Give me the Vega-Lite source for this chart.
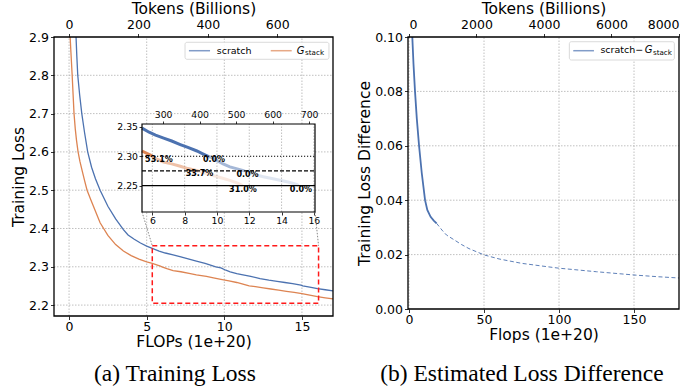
{
  "$schema": "https://vega.github.io/schema/vega-lite/v6.json",
  "background": "white",
  "width": 697,
  "height": 390,
  "autosize": {"type": "none"},
  "padding": 0,
  "config": {
    "font": "DejaVu Sans",
    "view": {"stroke": null},
    "axis": {
      "labelFont": "DejaVu Sans", "labelFontSize": 12.5, "labelColor": "black",
      "titleFont": "DejaVu Sans", "titleFontSize": 15.5, "titleFontWeight": "normal", "titleColor": "black",
      "tickColor": "black", "tickSize": 3.5, "tickWidth": 0.8, "labelPadding": 2, "titlePadding": 2,
      "domain": false, "grid": false
    }
  },
  "resolve": {"scale": {"x": "independent", "y": "independent"}, "axis": {"x": "independent", "y": "independent"}},
  "datasets": {
    "loss": [
      {"run": "scratch", "flops": 0.45, "loss": 2.900},
      {"run": "scratch", "flops": 0.50, "loss": 2.850},
      {"run": "scratch", "flops": 0.56, "loss": 2.800},
      {"run": "scratch", "flops": 0.68, "loss": 2.750},
      {"run": "scratch", "flops": 0.82, "loss": 2.700},
      {"run": "scratch", "flops": 1.00, "loss": 2.650},
      {"run": "scratch", "flops": 1.20, "loss": 2.600},
      {"run": "scratch", "flops": 1.45, "loss": 2.560},
      {"run": "scratch", "flops": 1.70, "loss": 2.530},
      {"run": "scratch", "flops": 2.00, "loss": 2.500},
      {"run": "scratch", "flops": 2.50, "loss": 2.458},
      {"run": "scratch", "flops": 3.00, "loss": 2.425},
      {"run": "scratch", "flops": 3.50, "loss": 2.397},
      {"run": "scratch", "flops": 3.80, "loss": 2.383},
      {"run": "scratch", "flops": 4.20, "loss": 2.372},
      {"run": "scratch", "flops": 4.60, "loss": 2.362},
      {"run": "scratch", "flops": 5.00, "loss": 2.354},
      {"run": "scratch", "flops": 5.36, "loss": 2.348},
      {"run": "scratch", "flops": 5.80, "loss": 2.341},
      {"run": "scratch", "flops": 6.20, "loss": 2.336},
      {"run": "scratch", "flops": 6.70, "loss": 2.331},
      {"run": "scratch", "flops": 7.20, "loss": 2.326},
      {"run": "scratch", "flops": 7.73, "loss": 2.320},
      {"run": "scratch", "flops": 8.20, "loss": 2.315},
      {"run": "scratch", "flops": 8.76, "loss": 2.309},
      {"run": "scratch", "flops": 9.06, "loss": 2.305},
      {"run": "scratch", "flops": 9.45, "loss": 2.300},
      {"run": "scratch", "flops": 9.78, "loss": 2.297},
      {"run": "scratch", "flops": 10.10, "loss": 2.291},
      {"run": "scratch", "flops": 10.38, "loss": 2.287},
      {"run": "scratch", "flops": 10.80, "loss": 2.282},
      {"run": "scratch", "flops": 11.20, "loss": 2.279},
      {"run": "scratch", "flops": 11.70, "loss": 2.275},
      {"run": "scratch", "flops": 12.30, "loss": 2.269},
      {"run": "scratch", "flops": 12.87, "loss": 2.265},
      {"run": "scratch", "flops": 13.40, "loss": 2.262},
      {"run": "scratch", "flops": 13.90, "loss": 2.259},
      {"run": "scratch", "flops": 14.40, "loss": 2.256},
      {"run": "scratch", "flops": 14.93, "loss": 2.252},
      {"run": "scratch", "flops": 15.05, "loss": 2.250},
      {"run": "scratch", "flops": 15.50, "loss": 2.247},
      {"run": "scratch", "flops": 16.00, "loss": 2.243},
      {"run": "scratch", "flops": 16.50, "loss": 2.240},
      {"run": "scratch", "flops": 17.00, "loss": 2.237},
      {"run": "G_stack", "flops": 0.07, "loss": 2.900},
      {"run": "G_stack", "flops": 0.12, "loss": 2.860},
      {"run": "G_stack", "flops": 0.20, "loss": 2.800},
      {"run": "G_stack", "flops": 0.26, "loss": 2.750},
      {"run": "G_stack", "flops": 0.32, "loss": 2.700},
      {"run": "G_stack", "flops": 0.40, "loss": 2.660},
      {"run": "G_stack", "flops": 0.48, "loss": 2.630},
      {"run": "G_stack", "flops": 0.58, "loss": 2.600},
      {"run": "G_stack", "flops": 0.70, "loss": 2.575},
      {"run": "G_stack", "flops": 0.85, "loss": 2.550},
      {"run": "G_stack", "flops": 1.00, "loss": 2.525},
      {"run": "G_stack", "flops": 1.16, "loss": 2.500},
      {"run": "G_stack", "flops": 1.40, "loss": 2.475},
      {"run": "G_stack", "flops": 1.70, "loss": 2.445},
      {"run": "G_stack", "flops": 2.00, "loss": 2.415},
      {"run": "G_stack", "flops": 2.50, "loss": 2.382},
      {"run": "G_stack", "flops": 3.00, "loss": 2.358},
      {"run": "G_stack", "flops": 3.50, "loss": 2.341},
      {"run": "G_stack", "flops": 4.00, "loss": 2.329},
      {"run": "G_stack", "flops": 4.50, "loss": 2.320},
      {"run": "G_stack", "flops": 5.00, "loss": 2.313},
      {"run": "G_stack", "flops": 5.36, "loss": 2.309},
      {"run": "G_stack", "flops": 5.88, "loss": 2.302},
      {"run": "G_stack", "flops": 5.98, "loss": 2.300},
      {"run": "G_stack", "flops": 6.30, "loss": 2.295},
      {"run": "G_stack", "flops": 6.70, "loss": 2.290},
      {"run": "G_stack", "flops": 7.20, "loss": 2.287},
      {"run": "G_stack", "flops": 7.73, "loss": 2.283},
      {"run": "G_stack", "flops": 8.20, "loss": 2.279},
      {"run": "G_stack", "flops": 8.85, "loss": 2.275},
      {"run": "G_stack", "flops": 9.30, "loss": 2.271},
      {"run": "G_stack", "flops": 9.78, "loss": 2.267},
      {"run": "G_stack", "flops": 10.30, "loss": 2.263},
      {"run": "G_stack", "flops": 10.80, "loss": 2.259},
      {"run": "G_stack", "flops": 11.20, "loss": 2.255},
      {"run": "G_stack", "flops": 11.60, "loss": 2.250},
      {"run": "G_stack", "flops": 12.00, "loss": 2.248},
      {"run": "G_stack", "flops": 12.50, "loss": 2.245},
      {"run": "G_stack", "flops": 13.00, "loss": 2.242},
      {"run": "G_stack", "flops": 13.50, "loss": 2.239},
      {"run": "G_stack", "flops": 14.00, "loss": 2.236},
      {"run": "G_stack", "flops": 14.50, "loss": 2.233},
      {"run": "G_stack", "flops": 15.00, "loss": 2.230},
      {"run": "G_stack", "flops": 15.50, "loss": 2.226},
      {"run": "G_stack", "flops": 16.00, "loss": 2.222},
      {"run": "G_stack", "flops": 16.50, "loss": 2.219},
      {"run": "G_stack", "flops": 17.00, "loss": 2.216}
    ],
    "savings": [
      {"flops": 6.41, "loss": 2.2936, "label": "53.1%"},
      {"flops": 9.82, "loss": 2.2936, "label": "0.0%"},
      {"flops": 8.92, "loss": 2.269, "label": "33.7%"},
      {"flops": 11.89, "loss": 2.268, "label": "0.0%"},
      {"flops": 11.61, "loss": 2.2425, "label": "31.0%"},
      {"flops": 15.20, "loss": 2.2425, "label": "0.0%"}
    ],
    "diff": [
      {"part": "measured", "flops": 2.2, "diff": 0.100},
      {"part": "measured", "flops": 3.0, "diff": 0.090},
      {"part": "measured", "flops": 4.0, "diff": 0.080},
      {"part": "measured", "flops": 5.2, "diff": 0.070},
      {"part": "measured", "flops": 6.7, "diff": 0.060},
      {"part": "measured", "flops": 8.5, "diff": 0.050},
      {"part": "measured", "flops": 10.7, "diff": 0.040},
      {"part": "measured", "flops": 12.2, "diff": 0.0364},
      {"part": "measured", "flops": 14.4, "diff": 0.0339},
      {"part": "measured", "flops": 16.5, "diff": 0.0325},
      {"part": "measured", "flops": 18.4, "diff": 0.0315},
      {"part": "extrapolated", "flops": 18.4, "diff": 0.0315},
      {"part": "extrapolated", "flops": 22, "diff": 0.0290},
      {"part": "extrapolated", "flops": 25, "diff": 0.0272},
      {"part": "extrapolated", "flops": 29.6, "diff": 0.0256},
      {"part": "extrapolated", "flops": 35, "diff": 0.0237},
      {"part": "extrapolated", "flops": 40, "diff": 0.0222},
      {"part": "extrapolated", "flops": 50, "diff": 0.0199},
      {"part": "extrapolated", "flops": 60, "diff": 0.0184},
      {"part": "extrapolated", "flops": 75, "diff": 0.0168},
      {"part": "extrapolated", "flops": 90, "diff": 0.0157},
      {"part": "extrapolated", "flops": 100, "diff": 0.0150},
      {"part": "extrapolated", "flops": 125, "diff": 0.0137},
      {"part": "extrapolated", "flops": 150, "diff": 0.0125},
      {"part": "extrapolated", "flops": 165, "diff": 0.0119},
      {"part": "extrapolated", "flops": 180, "diff": 0.0114}
    ]
  },
  "layer": [
    {
      "data": {"values": [{"v": 0}, {"v": 5}, {"v": 10}, {"v": 15}]},
      "mark": {"type": "rule", "color": "#b0b0b0", "strokeWidth": 0.8, "strokeDash": [1.5, 1.5]},
      "encoding": {
        "x": {"field": "v", "type": "quantitative", "scale": {"domain": [-0.97, 17], "range": [54, 333], "nice": false, "zero": false}, "axis": null},
        "y": {"datum": 2.1715, "type": "quantitative", "scale": {"domain": [2.1715, 2.9], "range": [316, 37], "nice": false, "zero": false}, "axis": null},
        "y2": {"datum": 2.9}
      }
    },
    {
      "data": {"values": [{"v": 2.2}, {"v": 2.3}, {"v": 2.4}, {"v": 2.5}, {"v": 2.6}, {"v": 2.7}, {"v": 2.8}]},
      "mark": {"type": "rule", "color": "#b0b0b0", "strokeWidth": 0.8, "strokeDash": [1.5, 1.5]},
      "encoding": {
        "x": {"datum": -0.97, "type": "quantitative", "scale": {"domain": [-0.97, 17], "range": [54, 333], "nice": false, "zero": false}, "axis": null},
        "x2": {"datum": 17},
        "y": {"field": "v", "type": "quantitative", "scale": {"domain": [2.1715, 2.9], "range": [316, 37], "nice": false, "zero": false}, "axis": null}
      }
    },
    {
      "data": {"name": "loss"},
      "mark": {"type": "line", "strokeWidth": 1.3},
      "encoding": {
        "x": {"field": "flops", "type": "quantitative",
              "scale": {"domain": [-0.97, 17], "range": [54, 333], "nice": false, "zero": false},
              "axis": {"orient": "bottom", "offset": -74, "title": "FLOPs (1e+20)", "values": [0, 5, 10, 15], "labelPadding": 0.5}},
        "y": {"field": "loss", "type": "quantitative",
              "scale": {"domain": [2.1715, 2.9], "range": [316, 37], "nice": false, "zero": false},
              "axis": {"orient": "left", "offset": -54, "title": "Training Loss", "values": [2.2, 2.3, 2.4, 2.5, 2.6, 2.7, 2.8, 2.9], "format": ".1f"}},
        "color": {"field": "run", "type": "nominal",
                  "scale": {"domain": ["scratch", "G_stack"], "range": ["#4c72b0", "#dd8452"]}, "legend": null}
      }
    },
    {
      "data": {"values": [{}]},
      "mark": {"type": "point", "opacity": 0},
      "encoding": {
        "x": {"datum": 0, "type": "quantitative",
              "scale": {"domain": [-43.2, 760.8], "range": [54, 333], "nice": false, "zero": false},
              "axis": {"orient": "top", "offset": -37, "title": "Tokens (Billions)", "values": [0, 200, 400, 600], "format": "d"}},
        "y": {"datum": 2.5, "type": "quantitative", "scale": {"domain": [2.1715, 2.9], "range": [316, 37], "nice": false, "zero": false}, "axis": null}
      }
    },
    {
      "data": {"values": [{}]},
      "mark": {"type": "rect", "fillOpacity": 0, "stroke": "#ff1a1a", "strokeWidth": 1.5, "strokeDash": [5, 3]},
      "encoding": {
        "x": {"datum": 5.36, "type": "quantitative", "scale": {"domain": [-0.97, 17], "range": [54, 333], "nice": false, "zero": false}, "axis": null},
        "x2": {"datum": 16.07},
        "y": {"datum": 2.205, "type": "quantitative", "scale": {"domain": [2.1715, 2.9], "range": [316, 37], "nice": false, "zero": false}, "axis": null},
        "y2": {"datum": 2.355}
      }
    },
    {
      "data": {"values": [{"x0": 4.70, "y0": 2.4432, "x1": 5.36, "y1": 2.355}, {"x0": 15.84, "y0": 2.4432, "x1": 16.07, "y1": 2.355}]},
      "mark": {"type": "rule", "color": "#888888", "strokeWidth": 1, "strokeDash": [1.5, 1.5]},
      "encoding": {
        "x": {"field": "x0", "type": "quantitative", "scale": {"domain": [-0.97, 17], "range": [54, 333], "nice": false, "zero": false}, "axis": null},
        "y": {"field": "y0", "type": "quantitative", "scale": {"domain": [2.1715, 2.9], "range": [316, 37], "nice": false, "zero": false}, "axis": null},
        "x2": {"field": "x1"},
        "y2": {"field": "y1"}
      }
    },
    {
      "data": {"values": [{}]},
      "mark": {"type": "rect", "fill": "white", "fillOpacity": 0.85, "stroke": "#d0d0d0", "strokeWidth": 0.8, "cornerRadius": 2},
      "encoding": {
        "x": {"datum": 7.47, "type": "quantitative", "scale": {"domain": [-0.97, 17], "range": [54, 333], "nice": false, "zero": false}, "axis": null},
        "x2": {"datum": 16.74},
        "y": {"datum": 2.8418, "type": "quantitative", "scale": {"domain": [2.1715, 2.9], "range": [316, 37], "nice": false, "zero": false}, "axis": null},
        "y2": {"datum": 2.8862}
      }
    },
    {
      "data": {"values": [{"run": "scratch", "a": 7.72, "b": 9.08}, {"run": "G_stack", "a": 12.99, "b": 14.34}]},
      "mark": {"type": "rule", "strokeWidth": 1.5, "opacity": 0.7},
      "encoding": {
        "x": {"field": "a", "type": "quantitative", "scale": {"domain": [-0.97, 17], "range": [54, 333], "nice": false, "zero": false}, "axis": null},
        "x2": {"field": "b"},
        "y": {"datum": 2.8642, "type": "quantitative", "scale": {"domain": [2.1715, 2.9], "range": [316, 37], "nice": false, "zero": false}, "axis": null},
        "color": {"field": "run", "type": "nominal", "legend": null}
      }
    },
    {
      "data": {"values": [{"word": "scratch", "at": 9.51}]},
      "mark": {"type": "text", "fontSize": 9.5, "align": "left", "baseline": "middle"},
      "encoding": {
        "x": {"field": "at", "type": "quantitative", "scale": {"domain": [-0.97, 17], "range": [54, 333], "nice": false, "zero": false}, "axis": null},
        "y": {"datum": 2.8647, "type": "quantitative", "scale": {"domain": [2.1715, 2.9], "range": [316, 37], "nice": false, "zero": false}, "axis": null},
        "text": {"field": "word"}
      }
    },
    {
      "data": {"values": [{"word": "G", "at": 14.66}]},
      "mark": {"type": "text", "fontSize": 10, "fontStyle": "italic", "align": "left", "baseline": "middle"},
      "encoding": {
        "x": {"field": "at", "type": "quantitative", "scale": {"domain": [-0.97, 17], "range": [54, 333], "nice": false, "zero": false}, "axis": null},
        "y": {"datum": 2.8647, "type": "quantitative", "scale": {"domain": [2.1715, 2.9], "range": [316, 37], "nice": false, "zero": false}, "axis": null},
        "text": {"field": "word"}
      }
    },
    {
      "data": {"values": [{"word": "stack", "at": 15.2}]},
      "mark": {"type": "text", "fontSize": 7.2, "align": "left", "baseline": "middle"},
      "encoding": {
        "x": {"field": "at", "type": "quantitative", "scale": {"domain": [-0.97, 17], "range": [54, 333], "nice": false, "zero": false}, "axis": null},
        "y": {"datum": 2.8582, "type": "quantitative", "scale": {"domain": [2.1715, 2.9], "range": [316, 37], "nice": false, "zero": false}, "axis": null},
        "text": {"field": "word"}
      }
    },
    {
      "data": {"values": [{}]},
      "mark": {"type": "rect", "fill": "white"},
      "encoding": {
        "x": {"datum": 5.36, "type": "quantitative",
              "scale": {"domain": [5.36, 16.07], "range": [142, 315], "nice": false, "zero": false},
              "axis": {"orient": "bottom", "offset": -178, "values": [6, 8, 10, 12, 14, 16], "title": null, "labelFontSize": 9.3, "tickSize": 3, "labelPadding": 1}},
        "x2": {"datum": 16.07},
        "y": {"datum": 2.205, "type": "quantitative",
              "scale": {"domain": [2.205, 2.355], "range": [212, 124], "nice": false, "zero": false},
              "axis": {"orient": "left", "offset": -142, "values": [2.25, 2.3, 2.35], "format": ".2f", "title": null, "labelFontSize": 9.3, "tickSize": 3, "labelPadding": 1.5}},
        "y2": {"datum": 2.355}
      }
    },
    {
      "data": {"values": [{}]},
      "mark": {"type": "point", "opacity": 0},
      "encoding": {
        "x": {"datum": 300, "type": "quantitative",
              "scale": {"domain": [242, 716], "range": [142, 315], "nice": false, "zero": false},
              "axis": {"orient": "top", "offset": -124, "values": [300, 400, 500, 600, 700], "format": "d", "title": null, "labelFontSize": 9.3, "tickSize": 3, "labelPadding": 1.5}},
        "y": {"datum": 2.3, "type": "quantitative", "scale": {"domain": [2.205, 2.355], "range": [212, 124], "nice": false, "zero": false}, "axis": null}
      }
    },
    {
      "data": {"values": [{"v": 6}, {"v": 8}, {"v": 10}, {"v": 12}, {"v": 14}, {"v": 16}]},
      "mark": {"type": "rule", "color": "#b0b0b0", "strokeWidth": 0.8, "strokeDash": [1.5, 1.5]},
      "encoding": {
        "x": {"field": "v", "type": "quantitative", "scale": {"domain": [5.36, 16.07], "range": [142, 315], "nice": false, "zero": false}, "axis": null},
        "y": {"datum": 2.205, "type": "quantitative", "scale": {"domain": [2.205, 2.355], "range": [212, 124], "nice": false, "zero": false}, "axis": null},
        "y2": {"datum": 2.355}
      }
    },
    {
      "data": {"name": "loss"},
      "transform": [{"filter": "datum.flops >= 5.35 && datum.loss >= 2.2999"}],
      "mark": {"type": "line", "strokeWidth": 3, "opacity": 1},
      "encoding": {
        "x": {"field": "flops", "type": "quantitative", "scale": {"domain": [5.36, 16.07], "range": [142, 315], "nice": false, "zero": false}, "axis": null},
        "y": {"field": "loss", "type": "quantitative", "scale": {"domain": [2.205, 2.355], "range": [212, 124], "nice": false, "zero": false}, "axis": null},
        "color": {"field": "run", "type": "nominal", "legend": null}
      }
    },
    {
      "data": {"name": "loss"},
      "transform": [{"filter": "datum.flops >= 5.35 && datum.loss <= 2.3001 && datum.loss >= 2.2749"}],
      "mark": {"type": "line", "strokeWidth": 3, "opacity": 0.5},
      "encoding": {
        "x": {"field": "flops", "type": "quantitative", "scale": {"domain": [5.36, 16.07], "range": [142, 315], "nice": false, "zero": false}, "axis": null},
        "y": {"field": "loss", "type": "quantitative", "scale": {"domain": [2.205, 2.355], "range": [212, 124], "nice": false, "zero": false}, "axis": null},
        "color": {"field": "run", "type": "nominal", "legend": null}
      }
    },
    {
      "data": {"name": "loss"},
      "transform": [{"filter": "datum.flops >= 5.35 && datum.loss <= 2.2751 && datum.loss >= 2.2499"}],
      "mark": {"type": "line", "strokeWidth": 3, "opacity": 0.18},
      "encoding": {
        "x": {"field": "flops", "type": "quantitative", "scale": {"domain": [5.36, 16.07], "range": [142, 315], "nice": false, "zero": false}, "axis": null},
        "y": {"field": "loss", "type": "quantitative", "scale": {"domain": [2.205, 2.355], "range": [212, 124], "nice": false, "zero": false}, "axis": null},
        "color": {"field": "run", "type": "nominal", "legend": null}
      }
    },
    {
      "data": {"values": [{"level": 2.30, "style": "dotted"}, {"level": 2.275, "style": "dashed"}, {"level": 2.25, "style": "solid"}]},
      "mark": {"type": "rule", "color": "black", "strokeWidth": 1.2},
      "encoding": {
        "x": {"datum": 5.36, "type": "quantitative", "scale": {"domain": [5.36, 16.07], "range": [142, 315], "nice": false, "zero": false}, "axis": null},
        "x2": {"datum": 16.07},
        "y": {"field": "level", "type": "quantitative", "scale": {"domain": [2.205, 2.355], "range": [212, 124], "nice": false, "zero": false}, "axis": null},
        "strokeDash": {"field": "style", "type": "nominal",
                       "scale": {"domain": ["dotted", "dashed", "solid"], "range": [[1.2, 1.8], [4, 2], [1, 0]]}, "legend": null}
      }
    },
    {
      "data": {"name": "savings"},
      "mark": {"type": "text", "fontSize": 8, "fontWeight": "bold", "align": "center", "baseline": "middle"},
      "encoding": {
        "x": {"field": "flops", "type": "quantitative", "scale": {"domain": [5.36, 16.07], "range": [142, 315], "nice": false, "zero": false}, "axis": null},
        "y": {"field": "loss", "type": "quantitative", "scale": {"domain": [2.205, 2.355], "range": [212, 124], "nice": false, "zero": false}, "axis": null},
        "text": {"field": "label"}
      }
    },
    {
      "data": {"values": [{}]},
      "mark": {"type": "rect", "fillOpacity": 0, "stroke": "black", "strokeWidth": 1.2},
      "encoding": {
        "x": {"datum": 5.36, "type": "quantitative", "scale": {"domain": [5.36, 16.07], "range": [142, 315], "nice": false, "zero": false}, "axis": null},
        "x2": {"datum": 16.07},
        "y": {"datum": 2.205, "type": "quantitative", "scale": {"domain": [2.205, 2.355], "range": [212, 124], "nice": false, "zero": false}, "axis": null},
        "y2": {"datum": 2.355}
      }
    },
    {
      "data": {"values": [{}]},
      "mark": {"type": "rect", "fillOpacity": 0, "stroke": "black", "strokeWidth": 1.3},
      "encoding": {
        "x": {"datum": -0.97, "type": "quantitative", "scale": {"domain": [-0.97, 17], "range": [54, 333], "nice": false, "zero": false}, "axis": null},
        "x2": {"datum": 17},
        "y": {"datum": 2.1715, "type": "quantitative", "scale": {"domain": [2.1715, 2.9], "range": [316, 37], "nice": false, "zero": false}, "axis": null},
        "y2": {"datum": 2.9}
      }
    },
    {
      "data": {"values": [{"caption": "(a) Training Loss", "at": 6.82}]},
      "mark": {"type": "text", "font": "Liberation Serif", "fontSize": 23.5, "align": "center", "baseline": "alphabetic"},
      "encoding": {
        "x": {"field": "at", "type": "quantitative", "scale": {"domain": [-0.97, 17], "range": [54, 333], "nice": false, "zero": false}, "axis": null},
        "y": {"datum": 2.002, "type": "quantitative", "scale": {"domain": [2.1715, 2.9], "range": [316, 37], "nice": false, "zero": false}, "axis": null},
        "text": {"field": "caption"}
      }
    },
    {
      "data": {"values": [{"v": 0}, {"v": 50}, {"v": 100}, {"v": 150}]},
      "mark": {"type": "rule", "color": "#b0b0b0", "strokeWidth": 0.8, "strokeDash": [1.5, 1.5]},
      "encoding": {
        "x": {"field": "v", "type": "quantitative", "scale": {"domain": [-0.67, 180], "range": [408, 679], "nice": false, "zero": false}, "axis": null},
        "y": {"datum": 0, "type": "quantitative", "scale": {"domain": [0, 0.1], "range": [309, 37], "nice": false, "zero": false}, "axis": null},
        "y2": {"datum": 0.1}
      }
    },
    {
      "data": {"values": [{"v": 0.02}, {"v": 0.04}, {"v": 0.06}, {"v": 0.08}]},
      "mark": {"type": "rule", "color": "#b0b0b0", "strokeWidth": 0.8, "strokeDash": [1.5, 1.5]},
      "encoding": {
        "x": {"datum": -0.67, "type": "quantitative", "scale": {"domain": [-0.67, 180], "range": [408, 679], "nice": false, "zero": false}, "axis": null},
        "x2": {"datum": 180},
        "y": {"field": "v", "type": "quantitative", "scale": {"domain": [0, 0.1], "range": [309, 37], "nice": false, "zero": false}, "axis": null}
      }
    },
    {
      "data": {"name": "diff"},
      "transform": [{"filter": "datum.part === 'measured'"}],
      "mark": {"type": "line", "color": "#4c72b0", "strokeWidth": 1.8},
      "encoding": {
        "x": {"field": "flops", "type": "quantitative",
              "scale": {"domain": [-0.67, 180], "range": [408, 679], "nice": false, "zero": false},
              "axis": {"orient": "bottom", "offset": -81, "title": "Flops (1e+20)", "values": [0, 50, 100, 150], "labelPadding": 0.5}},
        "y": {"field": "diff", "type": "quantitative",
              "scale": {"domain": [0, 0.1], "range": [309, 37], "nice": false, "zero": false},
              "axis": {"orient": "left", "offset": -408, "title": "Training Loss Difference", "values": [0, 0.02, 0.04, 0.06, 0.08, 0.1], "format": ".2f"}}
      }
    },
    {
      "data": {"values": [{}]},
      "mark": {"type": "point", "opacity": 0},
      "encoding": {
        "x": {"datum": 0, "type": "quantitative",
              "scale": {"domain": [-29.6, 8000], "range": [408, 679], "nice": false, "zero": false},
              "axis": {"orient": "top", "offset": -37, "title": "Tokens (Billions)", "values": [0, 2000, 4000, 6000, 8000], "format": "d"}},
        "y": {"datum": 0.05, "type": "quantitative", "scale": {"domain": [0, 0.1], "range": [309, 37], "nice": false, "zero": false}, "axis": null}
      }
    },
    {
      "data": {"name": "diff"},
      "transform": [{"filter": "datum.part === 'extrapolated'"}],
      "mark": {"type": "line", "color": "#4c72b0", "strokeWidth": 1, "strokeDash": [4, 2.5], "opacity": 0.9},
      "encoding": {
        "x": {"field": "flops", "type": "quantitative", "scale": {"domain": [-0.67, 180], "range": [408, 679], "nice": false, "zero": false}, "axis": null},
        "y": {"field": "diff", "type": "quantitative", "scale": {"domain": [0, 0.1], "range": [309, 37], "nice": false, "zero": false}, "axis": null}
      }
    },
    {
      "data": {"values": [{}]},
      "mark": {"type": "rect", "fill": "white", "fillOpacity": 0.85, "stroke": "#d0d0d0", "strokeWidth": 0.8, "cornerRadius": 2},
      "encoding": {
        "x": {"datum": 106.9, "type": "quantitative", "scale": {"domain": [-0.67, 180], "range": [408, 679], "nice": false, "zero": false}, "axis": null},
        "x2": {"datum": 176.9},
        "y": {"datum": 0.09154, "type": "quantitative", "scale": {"domain": [0, 0.1], "range": [309, 37], "nice": false, "zero": false}, "axis": null},
        "y2": {"datum": 0.09827}
      }
    },
    {
      "data": {"values": [{}]},
      "mark": {"type": "rule", "color": "#4c72b0", "strokeWidth": 1.5, "opacity": 0.7},
      "encoding": {
        "x": {"datum": 109.5, "type": "quantitative", "scale": {"domain": [-0.67, 180], "range": [408, 679], "nice": false, "zero": false}, "axis": null},
        "x2": {"datum": 123.3},
        "y": {"datum": 0.09496, "type": "quantitative", "scale": {"domain": [0, 0.1], "range": [309, 37], "nice": false, "zero": false}, "axis": null}
      }
    },
    {
      "data": {"values": [{"word": "scratch−", "at": 127.6}]},
      "mark": {"type": "text", "fontSize": 9.5, "align": "left", "baseline": "middle"},
      "encoding": {
        "x": {"field": "at", "type": "quantitative", "scale": {"domain": [-0.67, 180], "range": [408, 679], "nice": false, "zero": false}, "axis": null},
        "y": {"datum": 0.09504, "type": "quantitative", "scale": {"domain": [0, 0.1], "range": [309, 37], "nice": false, "zero": false}, "axis": null},
        "text": {"field": "word"}
      }
    },
    {
      "data": {"values": [{"word": "G", "at": 157.2}]},
      "mark": {"type": "text", "fontSize": 10, "fontStyle": "italic", "align": "left", "baseline": "middle"},
      "encoding": {
        "x": {"field": "at", "type": "quantitative", "scale": {"domain": [-0.67, 180], "range": [408, 679], "nice": false, "zero": false}, "axis": null},
        "y": {"datum": 0.09504, "type": "quantitative", "scale": {"domain": [0, 0.1], "range": [309, 37], "nice": false, "zero": false}, "axis": null},
        "text": {"field": "word"}
      }
    },
    {
      "data": {"values": [{"word": "stack", "at": 162.6}]},
      "mark": {"type": "text", "fontSize": 7.2, "align": "left", "baseline": "middle"},
      "encoding": {
        "x": {"field": "at", "type": "quantitative", "scale": {"domain": [-0.67, 180], "range": [408, 679], "nice": false, "zero": false}, "axis": null},
        "y": {"datum": 0.09412, "type": "quantitative", "scale": {"domain": [0, 0.1], "range": [309, 37], "nice": false, "zero": false}, "axis": null},
        "text": {"field": "word"}
      }
    },
    {
      "data": {"values": [{}]},
      "mark": {"type": "rect", "fillOpacity": 0, "stroke": "black", "strokeWidth": 1.3},
      "encoding": {
        "x": {"datum": -0.67, "type": "quantitative", "scale": {"domain": [-0.67, 180], "range": [408, 679], "nice": false, "zero": false}, "axis": null},
        "x2": {"datum": 180},
        "y": {"datum": 0, "type": "quantitative", "scale": {"domain": [0, 0.1], "range": [309, 37], "nice": false, "zero": false}, "axis": null},
        "y2": {"datum": 0.1}
      }
    },
    {
      "data": {"values": [{"caption": "(b) Estimated Loss Difference", "at": 75.3}]},
      "mark": {"type": "text", "font": "Liberation Serif", "fontSize": 23.5, "align": "center", "baseline": "alphabetic"},
      "encoding": {
        "x": {"field": "at", "type": "quantitative", "scale": {"domain": [-0.67, 180], "range": [408, 679], "nice": false, "zero": false}, "axis": null},
        "y": {"datum": -0.02647, "type": "quantitative", "scale": {"domain": [0, 0.1], "range": [309, 37], "nice": false, "zero": false}, "axis": null},
        "text": {"field": "caption"}
      }
    }
  ]
}
